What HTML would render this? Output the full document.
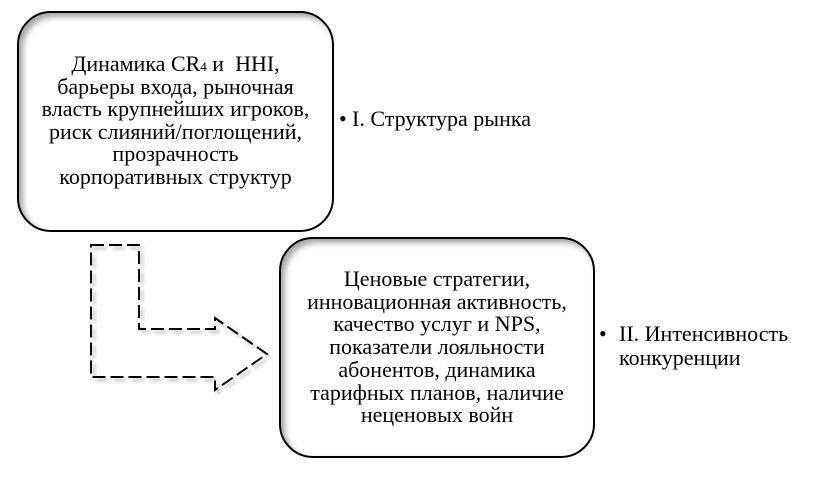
<!DOCTYPE html>
<html>
<head>
<meta charset="utf-8">
<style>
  html, body { margin: 0; padding: 0; background: #fff; }
  body { width: 816px; height: 478px; position: relative; overflow: hidden;
         font-family: "Liberation Serif", "Times New Roman", "DejaVu Serif", serif; color: #000; }
  .box { position: absolute; box-sizing: border-box; border: 2px solid #000;
         border-radius: 34px; background: #fff;
         box-shadow: inset 4px 4px 6px rgba(0,0,0,0.35); }
  .txt { position: absolute; font-size: 22px; line-height: 22.5px; text-align: center;
         white-space: nowrap; font-family: "Liberation Serif", serif; }
  .lbl { position: absolute; font-size: 22px; white-space: nowrap; font-family: "Liberation Serif", serif; }
  svg { position: absolute; left: 0; top: 0; }
</style>
</head>
<body>
  <div class="box" style="left:17px; top:11px; width:317px; height:221px;"></div>
  <div class="box" style="left:279px; top:237px; width:316px; height:221px;"></div>

  <div class="txt" style="left:17px; width:317px; top:53px;">
    Динамика CR<span style="font-size:13px; line-height:0;">4</span> и &nbsp;HHI,<br>
    барьеры входа, рыночная<br>
    власть крупнейших игроков,<br>
    риск слияний/поглощений,<br>
    прозрачность<br>
    корпоративных структур
  </div>

  <div class="txt" style="left:279px; width:316px; top:268px; line-height:22.7px;">
    Ценовые стратегии,<br>
    инновационная активность,<br>
    качество услуг и NPS,<br>
    показатели лояльности<br>
    абонентов, динамика<br>
    тарифных планов, наличие<br>
    неценовых войн
  </div>

  <div class="lbl" style="left:339px; top:108px; line-height:22.5px;">•</div>
  <div class="lbl" style="left:352px; top:108px; line-height:22.5px;">I. Структура рынка</div>

  <div class="lbl" style="left:599px; top:322px; line-height:24px;">•</div>
  <div class="lbl" style="left:619px; top:322px; line-height:24px;">II. Интенсивность<br>конкуренции</div>

  <svg width="816" height="478" viewBox="0 0 816 478">
    <defs>
      <filter id="sh" x="-10%" y="-10%" width="130%" height="130%">
        <feDropShadow dx="3" dy="3" stdDeviation="1.8" flood-color="#000" flood-opacity="0.3"/>
      </filter>
    </defs>
    <path d="M91,245 L139,245 L139,329 L215,329 L215,318 L267,354 L215,390 L215,377 L91,377 Z"
          fill="none" stroke="#000" stroke-width="1.9" stroke-dasharray="13 5"
          filter="url(#sh)"/>
  </svg>
</body>
</html>
